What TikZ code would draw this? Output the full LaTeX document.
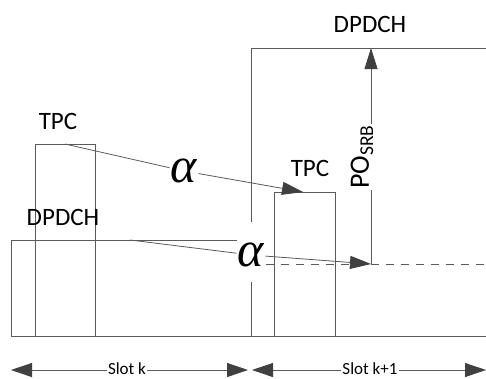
\documentclass[tikz,border=0pt]{standalone}
\usepackage{fontspec}
\setmainfont{Carlito}
\newfontfamily\greekfont{Liberation Serif}
\usetikzlibrary{arrows.meta}
\definecolor{linegray}{HTML}{5A5A5A}
\definecolor{tipgray}{HTML}{404040}
\begin{document}
\begin{tikzpicture}[x=1pt, y=-1pt, line width=0.8pt,
		every node/.style={inner sep=0pt},
		frame/.style={draw=linegray},
		pointer/.style={draw=linegray, -{Triangle[length=21pt, width=13pt, color=tipgray]}},
		slotline/.style={draw=linegray, {Triangle[length=21pt, width=14pt, color=tipgray]}-{Triangle[length=21pt, width=14pt, color=tipgray]}},
		tag/.style={font=\fontsize{25}{25}\selectfont},
		slottag/.style={fill=white, inner sep=1pt, font=\fontsize{17}{17}\selectfont},
		greek/.style={fill=white, inner sep=1pt, font=\fontsize{50}{50}\selectfont\greekfont\itshape}]
	\useasboundingbox[fill=white] (0,0) rectangle (486,378);
	% \draw[help lines, step=50] (0,0) grid (486,378);

	% slot k
	\draw[frame] (35,336) rectangle (95,144);
	\node (tpcA) at (58,121) [tag] {TPC};
	\draw[frame] (237,240) -- (11,240) -- (11,336) -- (486,336);
	\node (dpdchA) at (63,217) [tag] {DPDCH};

	% slot k+1
	\draw[frame] (274,336) rectangle (335,192);
	\node (tpcB) at (310,168) [tag] {TPC};
	\draw[frame] (251,336) -- (251,282);
	\draw[frame] (251,222) -- (251,48) -- (486,48);
	\node (dpdchB) at (370,24) [tag] {DPDCH};

	% offsets
	\coordinate (tpcStart) at (65,144);
	\coordinate (tpcEnd) at (303,192);
	\coordinate (dpdchStart) at (130,240);
	\coordinate (srb) at (371,264);
	\coordinate (srbTop) at (371,48);
	\coordinate (dashEnd) at (486,264);
	\node[greek] (alphaA) at (184,171) {α};
	\node[greek] (alphaB) at (251,255) {α};
	\draw[frame, dash pattern=on 8pt off 7pt] (alphaB.east |- srb) -- (dashEnd);
	\draw[pointer] (tpcStart) -- (alphaA) -- (tpcEnd);
	\draw[pointer] (dpdchStart) -- (alphaB) -- (srb);
	\draw[pointer] (srb) -- (srbTop);
	\node (po) at (362,157) [tag, fill=white, rotate=90, inner sep=1pt, font=\fontsize{28}{28}\selectfont] {PO\textsubscript{SRB}};

	% slots
	\coordinate (slotA) at (11,370);
	\coordinate (slotB) at (248,370);
	\coordinate (slotC) at (252,370);
	\coordinate (slotD) at (486,370);
	\draw[slotline] (slotA) -- (slotB);
	\draw[slotline] (slotC) -- (slotD);
	\node (slotk) at (127,369) [slottag] {Slot k};
	\node (slotkk) at (370,369) [slottag] {Slot k+1};
\end{tikzpicture}
\end{document}
